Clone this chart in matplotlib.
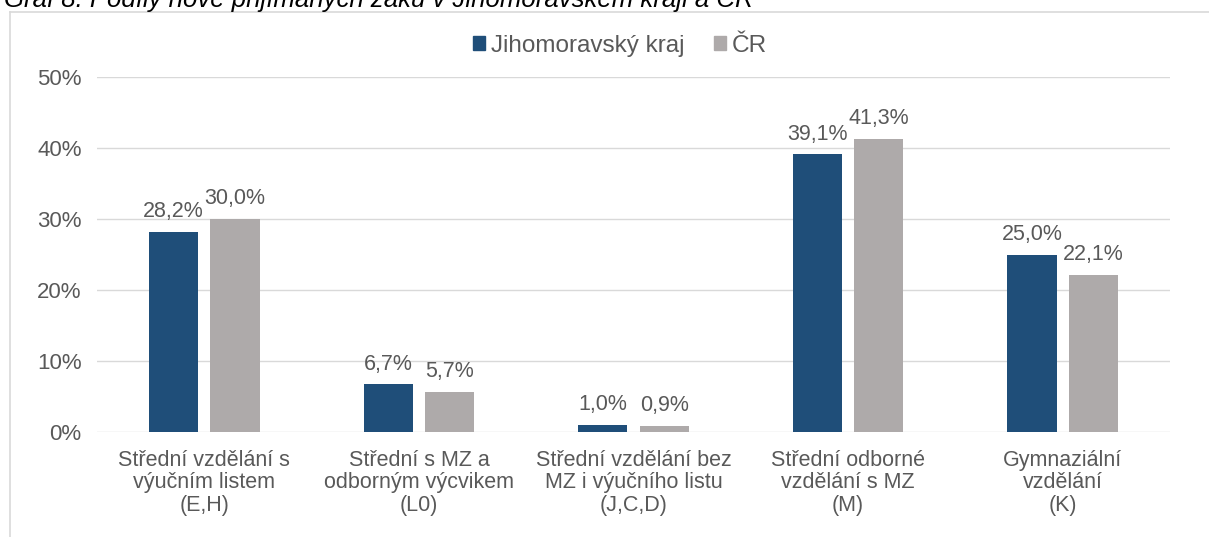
import matplotlib
matplotlib.use("Agg")
import matplotlib.pyplot as plt
from matplotlib.lines import Line2D
import numpy as np

categories = [
    "Střední vzdělání s\nvýučním listem\n(E,H)",
    "Střední s MZ a\nodborným výcvikem\n(L0)",
    "Střední vzdělání bez\nMZ i výučního listu\n(J,C,D)",
    "Střední odborné\nvzdělání s MZ\n(M)",
    "Gymnaziální\nvzdělání\n(K)",
]
jmk = [28.2, 6.7, 1.0, 39.1, 25.0]
cr = [30.0, 5.7, 0.9, 41.3, 22.1]
series_names = ["Jihomoravský kraj", "ČR"]
yticks = [0, 10, 20, 30, 40, 50]

plt.rcParams['font.family'] = ['Liberation Sans', 'DejaVu Sans']
TXT = '#595959'
BLUE = '#1F4E79'
GRAY = '#AEAAAA'

W, H = 1209, 537
fig = plt.figure(figsize=(W / 100, H / 100), dpi=100)
ax = fig.add_axes([97 / W, 1 - 432 / H, (1170 - 97) / W, (432 - 77) / H])

x = np.arange(len(categories))
bw = 0.23
off = 0.143
b1 = ax.bar(x - off, jmk, bw, color=BLUE, zorder=3)
b2 = ax.bar(x + off, cr, bw, color=GRAY, zorder=3)

for bars, vals in ((b1, jmk), (b2, cr)):
    for r, v in zip(bars, vals):
        ax.annotate(f"{v:.1f}%".replace('.', ','),
                    (r.get_x() + r.get_width() / 2, v),
                    xytext=(0, 7), textcoords='offset points',
                    ha='center', va='bottom', fontsize=15.5, color=TXT)

ax.set_xlim(-0.5, len(categories) - 0.5)
ax.set_ylim(0, 50)
ax.set_yticks(yticks)
ax.set_yticklabels([f"{t}%" for t in yticks], fontsize=16, color=TXT)
ax.set_xticks(x)
ax.set_xticklabels(categories, fontsize=15.5, color=TXT, linespacing=1.08)
ax.tick_params(axis='both', length=0)
ax.tick_params(axis='y', pad=11)
ax.tick_params(axis='x', pad=13)
ax.grid(axis='y', color='#D9D9D9', linewidth=1, zorder=0)
for s in ax.spines.values():
    s.set_visible(False)

# legend
handles = [plt.Rectangle((0, 0), 1, 1, color=BLUE), plt.Rectangle((0, 0), 1, 1, color=GRAY)]
fig.legend(handles, series_names, loc='center', bbox_to_anchor=(620 / W, 1 - 46 / H),
           ncol=2, frameon=False, fontsize=17.5, handlelength=0.5, handleheight=0.5,
           handletextpad=0.25, columnspacing=1.2, labelcolor=TXT)

# border of chart area
fig.add_artist(Line2D([10 / W, 10 / W], [0, 1 - 12 / H], transform=fig.transFigure,
                      color='#D9D9D9', linewidth=1.2))
fig.add_artist(Line2D([10 / W, 1], [1 - 12 / H, 1 - 12 / H], transform=fig.transFigure,
                      color='#D9D9D9', linewidth=1.2))

# title (partly cut off at top)
fig.text(4 / W, 1 - 7.5 / H, "Graf 8: Podíly nově přijímaných žáků v Jihomoravském kraji a ČR",
         ha='left', va='baseline', fontsize=18.5, style='italic', color='black')

fig.savefig("out.png", dpi=100)
